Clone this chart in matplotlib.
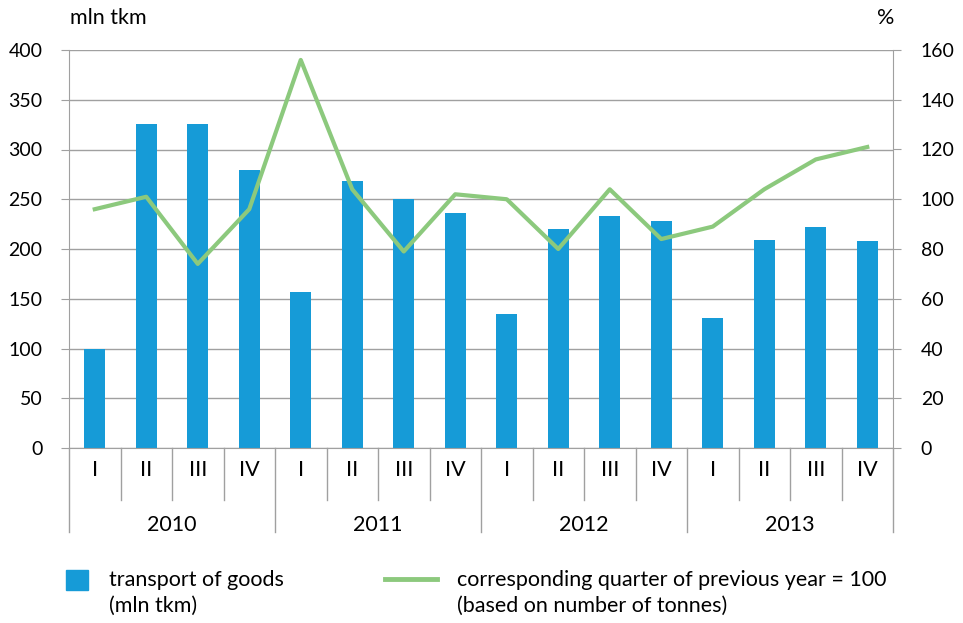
import numpy as np
import matplotlib
matplotlib.use("Agg")
import matplotlib.pyplot as plt
from matplotlib.patches import Rectangle
from matplotlib.lines import Line2D

plt.rcParams['font.family'] = ['Lato', 'DejaVu Sans']

# Data
years = ['2010', '2011', '2012', '2013']
quarters = ['I', 'II', 'III', 'IV']
transport_goods = [100, 326, 326, 279,
                   157, 268, 250, 236,
                   135, 220, 233, 228,
                   131, 209, 222, 208]
index_prev_year = [96, 101, 74, 96,
                   156, 104, 79, 102,
                   100, 80, 104, 84,
                   89, 104, 116, 121]

bar_color = '#169bd7'
line_color = '#8cc97d'
grid_color = '#a0a0a0'
fs = 14        # numbers
fs_txt = 15.5  # words

W, H = 963, 623
fig = plt.figure(figsize=(W / 100, H / 100), dpi=100)
ax = fig.add_axes([69 / W, 1 - 448 / H, (893 - 69) / W, (448 - 50) / H])

x = np.arange(len(transport_goods))
ax.bar(x, transport_goods, width=0.41, color=bar_color, zorder=2)
ax.set_xlim(-0.5, len(x) - 0.5)
ax.set_ylim(0, 400)
ax.set_yticks(range(0, 401, 50))
ax.yaxis.grid(True, color=grid_color, linewidth=1)
ax.set_axisbelow(True)
ax.set_xticks([])
for s in ['top', 'right']:
    ax.spines[s].set_visible(False)
for s in ['left', 'bottom']:
    ax.spines[s].set_color(grid_color)
ax.tick_params(axis='y', length=6, color=grid_color, labelsize=fs, pad=13)

ax2 = ax.twinx()
ax2.plot(x, index_prev_year, color=line_color, linewidth=3, zorder=3)
ax2.set_ylim(0, 160)
ax2.set_yticks(range(0, 161, 20))
for s in ['top', 'left', 'bottom']:
    ax2.spines[s].set_visible(False)
ax2.spines['right'].set_color(grid_color)
ax2.tick_params(axis='y', length=6, color=grid_color, labelsize=fs, pad=14)

# two-level category axis
trans = ax.get_xaxis_transform()
ah = 448 - 50
q_low = -52 / ah
y_low = -84 / ah
for i in range(len(x) + 1):
    bottom = y_low if i % 4 == 0 else q_low
    ax.plot([i - 0.5, i - 0.5], [0, bottom], color=grid_color, linewidth=1,
            transform=trans, clip_on=False)
for i in x:
    ax.text(i, -22 / ah, quarters[i % 4], transform=trans, ha='center',
            va='center', fontsize=fs_txt)
for j, yr in enumerate(years):
    ax.text(j * 4 + 1.5, -77 / ah, yr, transform=trans, ha='center',
            va='center', fontsize=fs_txt)

# axis unit labels
fig.text(70 / W, 1 - 18 / H, 'mln tkm', ha='left', va='center', fontsize=fs_txt)
fig.text(886 / W, 1 - 18 / H, '%', ha='center', va='center', fontsize=fs_txt)

# legend
fig.add_artist(Rectangle((66 / W, 1 - 590 / H), 22 / W, 20 / H,
                         transform=fig.transFigure, color=bar_color))
fig.text(109 / W, 1 - 580 / H, 'transport of goods', fontsize=fs_txt, va='center')
fig.text(109 / W, 1 - 606 / H, '(mln tkm)', fontsize=fs_txt, va='center')
fig.add_artist(Line2D([385 / W, 437 / W], [1 - 579 / H, 1 - 579 / H],
                      transform=fig.transFigure, color=line_color, linewidth=3.5))
fig.text(457 / W, 1 - 580 / H, 'corresponding quarter of previous year = 100',
         fontsize=fs_txt, va='center')
fig.text(457 / W, 1 - 606 / H, '(based on number of tonnes)', fontsize=fs_txt,
         va='center')

fig.savefig('out.png', dpi=100)
